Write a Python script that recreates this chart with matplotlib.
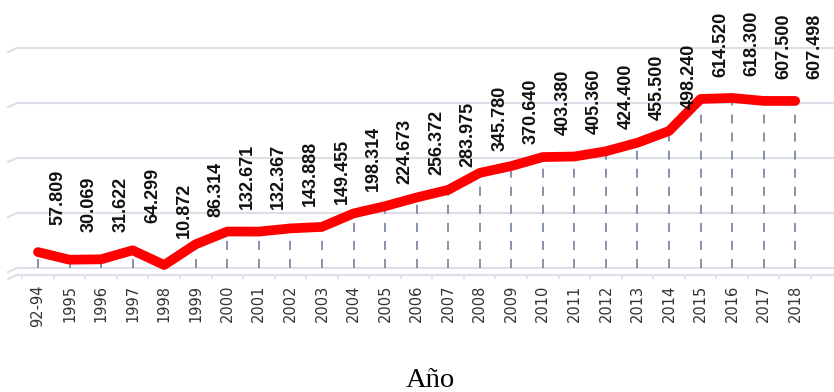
import matplotlib
matplotlib.use("Agg")
import matplotlib.pyplot as plt
from matplotlib.ticker import FixedLocator

years = ["92-94", "1995", "1996", "1997", "1998", "1999", "2000", "2001", "2002",
         "2003", "2004", "2005", "2006", "2007", "2008", "2009", "2010", "2011",
         "2012", "2013", "2014", "2015", "2016", "2017", "2018"]
values = [57809, 30069, 31622, 64299, 10872, 86314, 132671, 132367, 143888,
          149455, 198314, 224673, 256372, 283975, 345780, 370640, 403380, 405360,
          424400, 455500, 498240, 614520, 618300, 607500, 607498]
grid_values = [0, 200000, 400000, 600000, 800000]

W, H = 834, 392
fig = plt.figure(figsize=(W / 100, H / 100), dpi=100)
ax = fig.add_axes([17 / W, (H - 275) / H, 1 - 17 / W, 275 / H])

x = list(range(len(years)))
ax.set_xlim(-0.666, 25.23)
ax.set_ylim(-25500, 974500)

grid_col = "#dcdfe8"
# horizontal gridlines
for v in grid_values:
    ax.axhline(v, color=grid_col, lw=1.5, zorder=1)
    ax.plot([-0.666, -0.95], [v, v - 14500], color=grid_col, lw=1.5,
            clip_on=False, zorder=1)
ax.plot([-0.666, -0.95], [-25500, -40000], color=grid_col, lw=1.5,
        clip_on=False, zorder=1)

# drop lines
ax.vlines(x, 0, values, colors="#7d8aa5", linestyles=(0, (5, 5)), lw=1.3, zorder=2)

# main line
ax.plot(x, values, color="#ff0000", lw=7, solid_capstyle="round",
        solid_joinstyle="round", zorder=3)

# data labels
for xi, v in zip(x, values):
    lab = f"{v:,}".replace(",", ".")
    ax.annotate(lab, (xi, v), xytext=(20, 55), textcoords="offset pixels",
                rotation=90, ha="center", va="center", fontsize=13,
                fontweight="bold", family="Liberation Sans", color="#111111",
                annotation_clip=False, zorder=4)

for s in ["top", "right", "left"]:
    ax.spines[s].set_visible(False)
ax.spines["bottom"].set_color(grid_col)
ax.spines["bottom"].set_linewidth(1.5)

ax.set_yticks([])
ax.set_xticks(x)
ax.set_xticklabels(years, rotation=90, fontsize=10.5, family="DejaVu Sans",
                   color="#333333")
ax.tick_params(axis="x", which="major", length=0, pad=7)
ax.xaxis.set_minor_locator(FixedLocator([i - 0.5 for i in range(len(years) + 1)]))
ax.tick_params(axis="x", which="minor", length=3, width=1.2, color=grid_col)

fig.text(430 / W, 1 - 387 / H, "Año", ha="center", va="baseline",
         family="Liberation Serif", fontsize=20.5, color="black")

fig.savefig("out.png", dpi=100)
